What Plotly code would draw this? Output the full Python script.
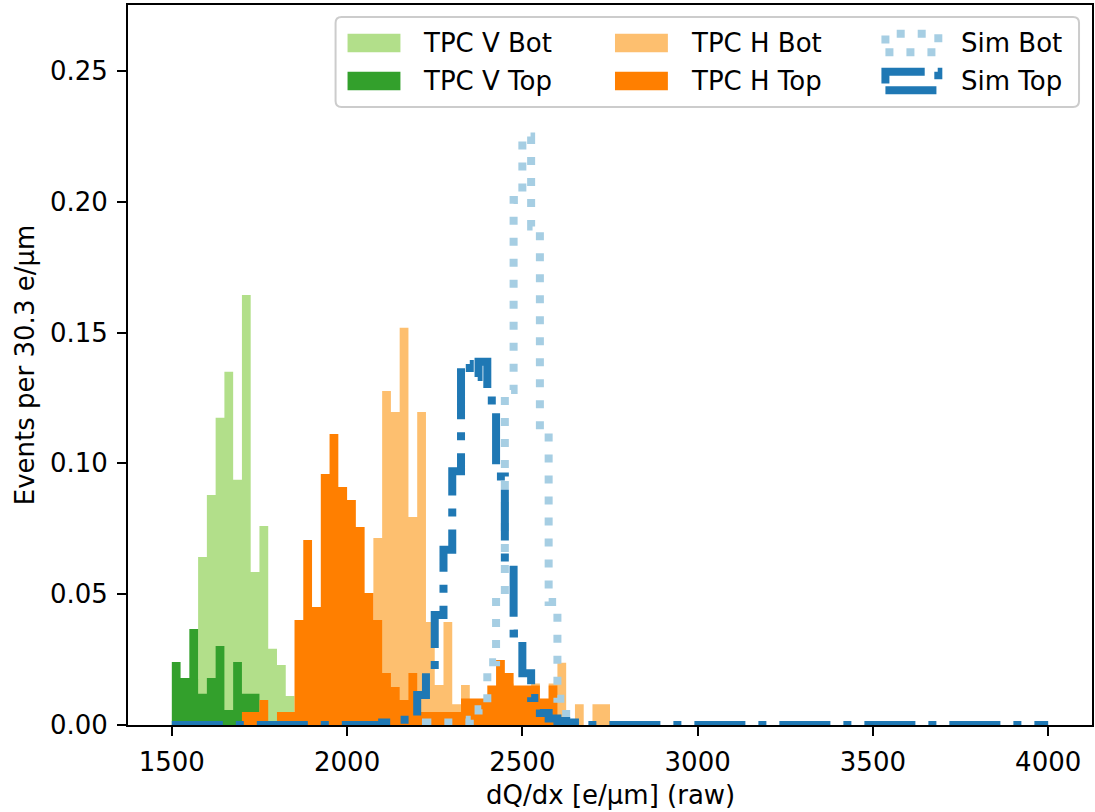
import numpy as np
import plotly.graph_objects as go

# ---------------------------------------------------------------------------
# Binning: 100 bins of 25 e/um between 1500 and 4000
# ---------------------------------------------------------------------------
BIN_LO, BIN_HI, N_BINS = 1500.0, 4000.0, 100
edges = np.linspace(BIN_LO, BIN_HI, N_BINS + 1)

# Normalised bin contents; each list starts at the given first-bin index
tpc_v_bot_start = 0
tpc_v_bot = [0.0, 0.0059, 0.0176, 0.0642, 0.0879, 0.1174, 0.1350, 0.0937,
             0.1644, 0.0585, 0.0761, 0.0291, 0.0229, 0.0111]

tpc_v_top_start = 0
tpc_v_top = [0.0241, 0.0180, 0.0367, 0.0119, 0.0180, 0.0302, 0.0057, 0.0241,
             0.0119, 0.0119]

tpc_h_bot_start = 19
tpc_h_bot = [0.0079, 0.0159, 0.0238, 0.0397, 0.0715, 0.1277, 0.1196, 0.1518,
             0.0795, 0.1196, 0.0394, 0.0153, 0.0394, 0.0079, 0.0153, 0.0079,
             0.0079, 0.0, 0.0079, 0.0159, 0.0079, 0.0079, 0.0159, 0.0079,
             0.0159, 0.0238, 0.0, 0.0079, 0.0, 0.0079, 0.0079]

tpc_h_top_start = 8
tpc_h_top = [0.0050, 0.0050, 0.0096, 0.0, 0.0050, 0.0050, 0.0401, 0.0707,
             0.0451, 0.0959, 0.1112, 0.0910, 0.0860, 0.0757, 0.0505, 0.0401,
             0.0199, 0.0145, 0.0096, 0.0199, 0.0050, 0.0050, 0.0050, 0.0050,
             0.0050, 0.0101, 0.0101, 0.0101, 0.0151, 0.0248, 0.0199, 0.0151,
             0.0151, 0.0151, 0.0101, 0.0151]

sim_bot_start = 29
sim_bot = [0.0010, 0.0010, 0.0010, 0.0010, 0.0010, 0.0020, 0.0060, 0.0240,
           0.0500, 0.1280, 0.2007, 0.2249, 0.1905, 0.1130, 0.0470, 0.0100,
           0.0020]

sim_top_start = 24
sim_top = [0.0010, 0.0020, 0.0020, 0.0020, 0.0115, 0.0200, 0.0420, 0.0670,
           0.0970, 0.1380, 0.1330, 0.1388, 0.1240, 0.0950, 0.0640, 0.0350,
           0.0198, 0.0103, 0.0046, 0.0025, 0.0015, 0.0010]

x_ticks = [1500, 2000, 2500, 3000, 3500, 4000]
y_ticks = [0.00, 0.05, 0.10, 0.15, 0.20, 0.25]

COLORS = {
    "TPC V Bot": "#b2df8a",
    "TPC V Top": "#33a02c",
    "TPC H Bot": "#fdbf6f",
    "TPC H Top": "#ff7f00",
    "Sim Bot": "#a6cee3",
    "Sim Top": "#1f78b4",
}

FONT = "DejaVu Sans"
FS = 26


def step_outline(start, values, lo=None, hi=None):
    """Histogram outline (hv step) over bins lo..hi-1, zero outside the data."""
    h = np.zeros(N_BINS)
    h[start:start + len(values)] = values
    lo = start if lo is None else lo
    hi = start + len(values) if hi is None else hi
    x = np.concatenate([[edges[lo]], edges[lo:hi], [edges[hi], edges[hi]]])
    y = np.concatenate([[0.0], h[lo:hi], [h[hi - 1], 0.0]])
    return x, y


fig = go.Figure()

# Filled (stepfilled) data histograms
for name, start, vals in [
    ("TPC V Bot", tpc_v_bot_start, tpc_v_bot),
    ("TPC V Top", tpc_v_top_start, tpc_v_top),
    ("TPC H Bot", tpc_h_bot_start, tpc_h_bot),
    ("TPC H Top", tpc_h_top_start, tpc_h_top),
]:
    x, y = step_outline(start, vals)
    fig.add_trace(go.Scatter(
        x=x, y=y, mode="lines", name=name, line_shape="hv",
        line=dict(width=0, color=COLORS[name]),
        fill="tozeroy", fillcolor=COLORS[name],
    ))

# Simulation histograms drawn as step outlines
x, y = step_outline(sim_bot_start, sim_bot)
fig.add_trace(go.Scatter(
    x=x, y=y, mode="lines", name="Sim Bot", line_shape="hv",
    line=dict(width=8, color=COLORS["Sim Bot"], dash="8px,13px"),
))
x, y = step_outline(sim_top_start, sim_top, lo=0, hi=N_BINS)
fig.add_trace(go.Scatter(
    x=x, y=y, mode="lines", name="Sim Top", line_shape="hv",
    line=dict(width=8, color=COLORS["Sim Top"], dash="51px,13px,8px,13px"),
))

# ---------------------------------------------------------------------------
# Layout
# ---------------------------------------------------------------------------
W, H = 1095, 812
ML, MR, MT, MB = 128, 1, 5, 87
PW, PH = W - ML - MR, H - MT - MB

axis_common = dict(
    showline=True, linecolor="black", linewidth=2, mirror=True,
    ticks="outside", ticklen=9, tickwidth=2, tickcolor="black",
    showgrid=False, zeroline=False,
    tickfont=dict(family=FONT, size=FS, color="black"),
)

fig.update_layout(
    width=W, height=H,
    margin=dict(l=ML, r=MR, t=MT, b=MB),
    plot_bgcolor="white", paper_bgcolor="white",
    showlegend=False,
    font=dict(family=FONT, size=FS, color="black"),
    xaxis=dict(range=[1375, 4125], tickvals=x_ticks,
               ticktext=[str(t) for t in x_ticks], ticklabelstandoff=4,
               **axis_common),
    yaxis=dict(range=[0, 0.2752], tickvals=y_ticks,
               ticktext=[f"{t:.2f}" for t in y_ticks], ticklabelstandoff=4,
               **axis_common),
)


def px_x(p):
    return (p - ML) / PW


def px_y(p):
    return (H - MB - p) / PH


annotations = [
    dict(text="dQ/dx [e/μm] (raw)", x=px_x(611), y=px_y(795),
         xref="paper", yref="paper", showarrow=False,
         xanchor="center", yanchor="middle",
         font=dict(family=FONT, size=FS, color="black")),
    dict(text="Events per 30.3 e/μm", x=px_x(25), y=px_y(365),
         xref="paper", yref="paper", showarrow=False, textangle=-90,
         xanchor="center", yanchor="middle",
         font=dict(family=FONT, size=FS, color="black")),
]
shapes = []

# Legend frame with rounded corners
bx0, bx1, by0, by1, r = 336, 1081, 17, 107, 6
rx, ry = r / PW, r / PH
X0, X1, Y0, Y1 = px_x(bx0), px_x(bx1), px_y(by1), px_y(by0)
frame = (f"M {X0 + rx},{Y0} L {X1 - rx},{Y0} Q {X1},{Y0} {X1},{Y0 + ry} "
         f"L {X1},{Y1 - ry} Q {X1},{Y1} {X1 - rx},{Y1} "
         f"L {X0 + rx},{Y1} Q {X0},{Y1} {X0},{Y1 - ry} "
         f"L {X0},{Y0 + ry} Q {X0},{Y0} {X0 + rx},{Y0} Z")
shapes.append(dict(type="path", path=frame, xref="paper", yref="paper",
                   line=dict(color="#cccccc", width=2),
                   fillcolor="rgba(255,255,255,0.8)", layer="above"))

# Legend entries: (label, handle x-left, text x-left, row centre)
legend_items = [
    ("TPC V Bot", 348, 422, 43),
    ("TPC V Top", 348, 422, 81),
    ("TPC H Bot", 616, 690, 43),
    ("TPC H Top", 616, 690, 81),
    ("Sim Bot", 887, 961, 43),
    ("Sim Top", 887, 961, 81),
]
HW, HH = 53, 18.5
for name, hx, tx, cy in legend_items:
    if name.startswith("Sim"):
        dash = "8px,13px" if name == "Sim Bot" else "51px,13px,8px,13px"
        shapes.append(dict(type="rect", xref="paper", yref="paper",
                           x0=px_x(hx), x1=px_x(hx + HW),
                           y0=px_y(cy + HH / 2), y1=px_y(cy - HH / 2),
                           line=dict(color=COLORS[name], width=8, dash=dash),
                           fillcolor="rgba(0,0,0,0)", layer="above"))
    else:
        shapes.append(dict(type="rect", xref="paper", yref="paper",
                           x0=px_x(hx), x1=px_x(hx + HW),
                           y0=px_y(cy + HH / 2), y1=px_y(cy - HH / 2),
                           line=dict(width=0), fillcolor=COLORS[name],
                           layer="above"))
    annotations.append(dict(text=name, x=px_x(tx), y=px_y(cy),
                            xref="paper", yref="paper", showarrow=False,
                            xanchor="left", yanchor="middle",
                            font=dict(family=FONT, size=FS, color="black")))

fig.update_layout(shapes=shapes, annotations=annotations)

fig.write_html("out.html")
